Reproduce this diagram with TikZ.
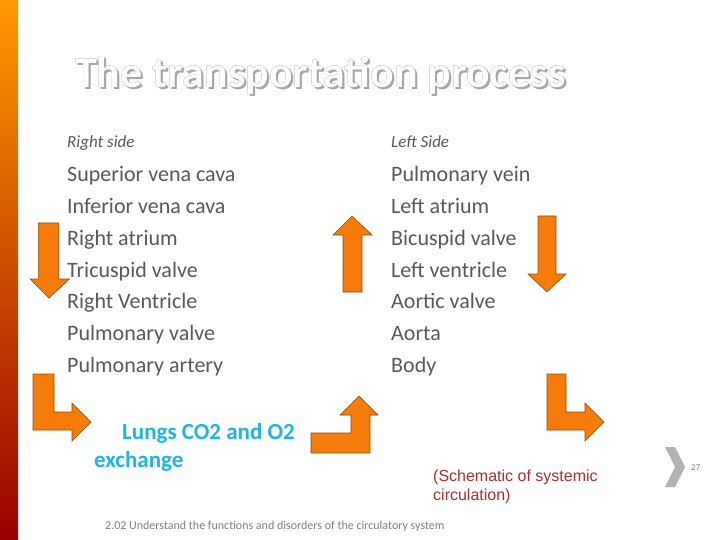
\documentclass[tikz,border=0pt]{standalone}
\usepackage{fontspec}
\setmainfont{Carlito}
\newfontfamily\arialf{Liberation Sans}
\usepackage[outline]{contour}
\contourlength{0.7pt}
\definecolor{org}{HTML}{F57C0A}
\definecolor{txt}{HTML}{595959}
\definecolor{cy}{HTML}{1FB5E0}
\definecolor{dred}{HTML}{A33030}
\tikzset{arr/.style={fill=org,draw=org!60!black,line width=0.6pt,line join=miter},
 lbl/.style={anchor=base west,inner sep=0pt,text=txt,font=\fontsize{22}{26}\selectfont}}
\begin{document}
\begin{tikzpicture}[x=1pt,y=-1pt]
\useasboundingbox (0,0) rectangle (720,540);
\fill[white] (0,0) rectangle (720,540);
\shade[top color=orange!80!yellow,bottom color=red!60!black] (0,0) rectangle (18,540);
% title
\node[anchor=base west,inner sep=0pt,font=\bfseries\fontsize{44}{46}\selectfont] (title) at (75,88) {\rlap{\hspace{2pt}\raisebox{-2pt}{\textcolor{gray!70}{The transportation process}}}\contour{gray!80!black}{\textcolor{white}{The transportation process}}};
% headers
\node[lbl,font=\itshape\fontsize{17}{20}\selectfont] (rh) at (67,148) {Right side};
\node[lbl,font=\itshape\fontsize{17}{20}\selectfont] (lh) at (391,148) {Left Side};
\foreach \t [count=\i] in {Superior vena cava,Inferior vena cava,Right atrium,Tricuspid valve,Right Ventricle,Pulmonary valve,Pulmonary artery}
  \node[lbl] (r\i) at (67,{182+31.7*(\i-1)}) {\t};
\foreach \t [count=\i] in {Pulmonary vein,Left atrium,Bicuspid valve,Left ventricle,Aortic valve,Aorta,Body}
  \node[lbl] (l\i) at (391,{182+31.7*(\i-1)}) {\t};
% arrows
\draw[arr] (38.4,223) -- (58.7,223) -- (58.7,279) -- (69.4,279) -- (49,298) -- (30,279) -- (38.4,279) -- cycle;
\draw[arr] (343,292) -- (343,235) -- (333,235) -- (352,216) -- (372,235) -- (362,235) -- (362,292) -- cycle;
\draw[arr] (538,216) -- (556,216) -- (556,274) -- (566,274) -- (547,292) -- (528,274) -- (538,274) -- cycle;
\draw[arr] (33,374) -- (54,374) -- (54,412) -- (72,412) -- (72,403) -- (91,422) -- (72,441) -- (72,430) -- (33,430) -- cycle;
\draw[arr] (311,433) -- (351,433) -- (351,415) -- (340,415) -- (359,396) -- (378,415) -- (370,415) -- (370,453) -- (311,453) -- cycle;
\draw[arr] (547,374) -- (566,374) -- (566,412) -- (585,412) -- (585,403) -- (604,422) -- (585,441) -- (585,430) -- (547,430) -- cycle;
% lungs
\node[lbl,text=cy,font=\bfseries\fontsize{23}{26}\selectfont] (lu1) at (122,439) {Lungs CO2 and O2};
\node[lbl,text=cy,font=\bfseries\fontsize{23}{26}\selectfont] (lu2) at (94,467) {exchange};
\node[lbl,text=dred,font=\arialf\fontsize{16}{18}\selectfont] (s1) at (433,481) {(Schematic of systemic};
\node[lbl,text=dred,font=\arialf\fontsize{16}{18}\selectfont] (s2) at (433,500) {circulation)};
\node[lbl,text=gray,font=\fontsize{12}{14}\selectfont] (foot) at (105,529) {2.02 Understand the functions and disorders of the circulatory system};
\fill[gray!60] (665,447) -- (675,447) -- (685,467) -- (675,487) -- (665,487) -- (675,467) -- cycle;
\node[lbl,text=gray,font=\fontsize{9}{10}\selectfont] (pg) at (691,470) {27};
\end{tikzpicture}
\end{document}
